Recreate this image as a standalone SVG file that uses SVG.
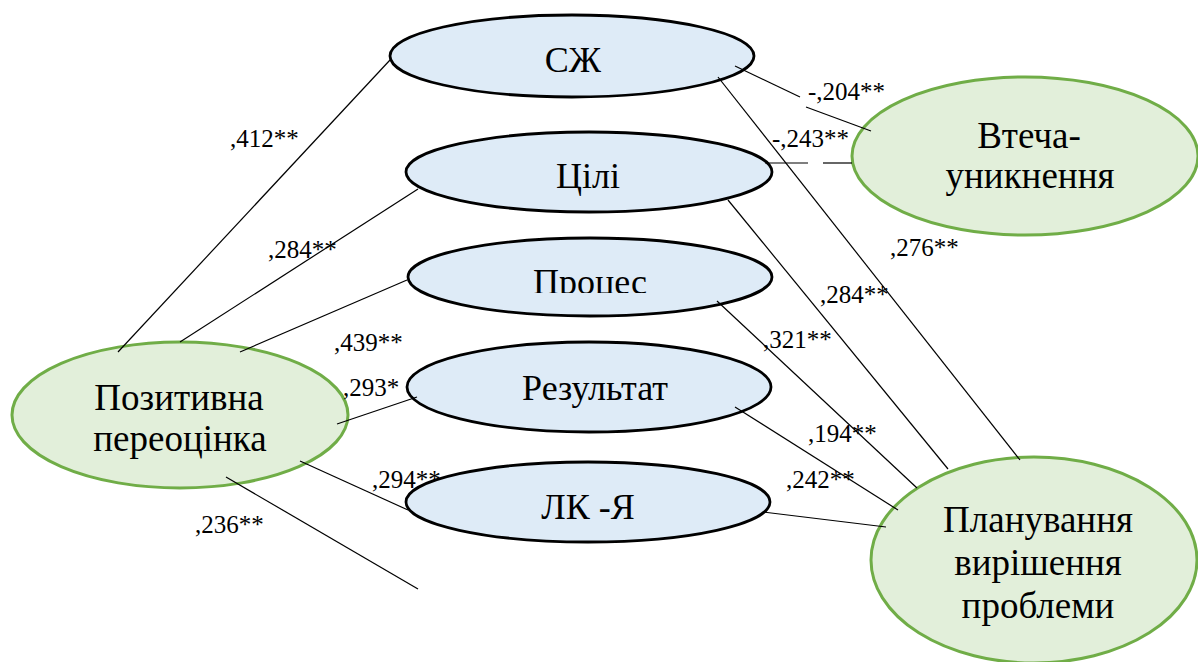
<svg xmlns="http://www.w3.org/2000/svg" width="1198" height="662" viewBox="0 0 1198 662">
<style>
.blue{fill:#deebf7;stroke:#000;stroke-width:2.8}
.green{fill:#e2efda;stroke:#70ad47;stroke-width:3}
text{font-family:'Liberation Serif','Times New Roman','DejaVu Serif',serif;fill:#000}
.lbl{font-size:36px;text-anchor:middle}
.glbl{font-size:37px;text-anchor:middle}
.val{font-size:25px}
.ln{stroke:#000;stroke-width:1.2;fill:none}
</style>
<defs>
<clipPath id="clipProc"><rect x="400" y="240" width="380" height="53"/></clipPath>
</defs>
<rect width="1198" height="662" fill="#fff"/>
<g id="n-szh"><ellipse class="blue" cx="572" cy="56" rx="182" ry="41"/><text class="lbl" x="573" y="72" font-family="Liberation Serif, serif">СЖ</text></g>
<g id="n-tsili"><ellipse class="blue" cx="589" cy="172" rx="183" ry="40"/><text class="lbl" x="588" y="188" font-family="Liberation Serif, serif">Цілі</text></g>
<g id="n-protses"><ellipse class="blue" cx="590" cy="277" rx="182" ry="39"/><text class="lbl" x="590" y="294" clip-path="url(#clipProc)" font-family="Liberation Serif, serif">Процес</text></g>
<g id="n-rezultat"><ellipse class="blue" cx="589" cy="387" rx="182" ry="45"/><text class="lbl" x="595" y="400" font-family="Liberation Serif, serif">Результат</text></g>
<g id="n-lkya"><ellipse class="blue" cx="588" cy="502" rx="182" ry="40"/><text class="lbl" x="588" y="519" font-family="Liberation Serif, serif">ЛК -Я</text></g>
<g id="n-pozytyvna"><ellipse class="green" cx="180" cy="415" rx="168" ry="73"/><text class="glbl" x="179" y="410" font-family="Liberation Serif, serif">Позитивна</text><text class="glbl" x="180" y="451" font-family="Liberation Serif, serif">переоцінка</text></g>
<g id="n-vtecha"><ellipse class="green" cx="1025" cy="156" rx="173" ry="79"/><text class="glbl" x="1029" y="148" font-family="Liberation Serif, serif">Втеча-</text><text class="glbl" x="1030" y="188" font-family="Liberation Serif, serif">уникнення</text></g>
<g id="n-planuvannya"><ellipse class="green" cx="1034" cy="560" rx="163" ry="103"/><text class="glbl" x="1038" y="532" font-family="Liberation Serif, serif">Планування</text><text class="glbl" x="1038" y="575" font-family="Liberation Serif, serif">вирішення</text><text class="glbl" x="1038" y="618" font-family="Liberation Serif, serif">проблеми</text></g>
<g id="connectors">
<line class="ln" x1="118" y1="352" x2="390" y2="60"/>
<line class="ln" x1="180" y1="342" x2="418" y2="189"/>
<line class="ln" x1="240" y1="352" x2="407" y2="280"/>
<line class="ln" x1="337" y1="424" x2="417" y2="397"/>
<line class="ln" x1="300" y1="461" x2="408" y2="510"/>
<line class="ln" x1="226" y1="477" x2="418" y2="589"/>
<line class="ln" x1="735" y1="66" x2="800" y2="97"/>
<line class="ln" x1="806" y1="107" x2="871" y2="131"/>
<line class="ln" x1="718" y1="77" x2="1020" y2="460"/>
<line class="ln" x1="765" y1="163" x2="808" y2="163"/>
<line class="ln" x1="823" y1="163" x2="852" y2="163"/>
<line class="ln" x1="728" y1="200" x2="948" y2="469"/>
<line class="ln" x1="717" y1="301" x2="917" y2="488"/>
<line class="ln" x1="735" y1="407" x2="898" y2="510"/>
<line class="ln" x1="763" y1="512" x2="886" y2="527"/>
</g>
<g id="values">
<text class="val" x="230" y="147">,412**</text>
<text class="val" x="268" y="258">,284**</text>
<text class="val" x="334" y="351">,439**</text>
<text class="val" x="343" y="396">,293*</text>
<text class="val" x="372" y="488">,294**</text>
<text class="val" x="195" y="533">,236**</text>
<text class="val" x="808" y="100">-,204**</text>
<text class="val" x="772" y="147">-,243**</text>
<text class="val" x="890" y="256">,276**</text>
<text class="val" x="820" y="303">,284**</text>
<text class="val" x="763" y="348">,321**</text>
<text class="val" x="808" y="442">,194**</text>
<text class="val" x="786" y="488">,242**</text>
</g>
</svg>
